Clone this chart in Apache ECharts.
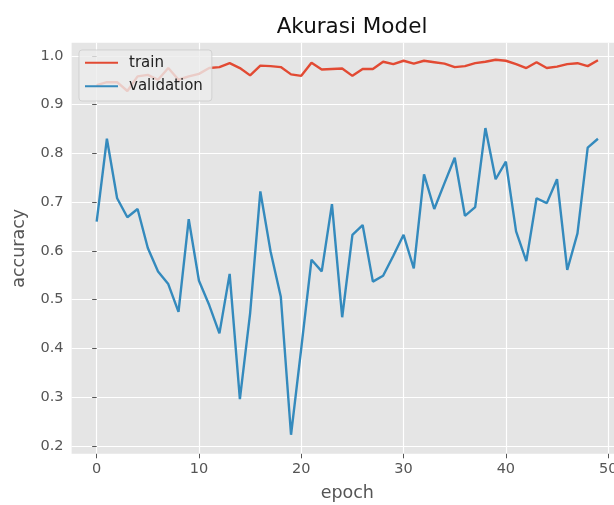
<!DOCTYPE html>
<html>
<head>
<meta charset="utf-8">
<script src="https://cdn.jsdelivr.net/npm/echarts@6/dist/echarts.min.js"></script>
<style>
  html, body { margin: 0; padding: 0; background: #fff; }
  #main { width: 614px; height: 505px; }
</style>
</head>
<body>
<div id="main"></div>
<script>
// nilai (per epoch 0..49)
var epochs = [];
for (var i = 0; i < 50; i++) epochs.push(i);

var trainAcc = [0.940, 0.946, 0.946, 0.928, 0.958, 0.961, 0.951, 0.975, 0.951, 0.958,
                0.963, 0.975, 0.977, 0.985, 0.975, 0.960, 0.980, 0.979, 0.977, 0.962,
                0.959, 0.986, 0.972, 0.973, 0.974, 0.959, 0.973, 0.973, 0.988, 0.983,
                0.990, 0.984, 0.990, 0.987, 0.984, 0.977, 0.979, 0.985, 0.988, 0.992,
                0.990, 0.983, 0.975, 0.987, 0.975, 0.978, 0.983, 0.985, 0.979, 0.991];

var valAcc = [0.660, 0.830, 0.708, 0.669, 0.686, 0.606, 0.558, 0.532, 0.475, 0.665,
              0.539, 0.489, 0.431, 0.553, 0.296, 0.472, 0.722, 0.599, 0.506, 0.223,
              0.400, 0.582, 0.558, 0.696, 0.464, 0.633, 0.653, 0.537, 0.549, 0.590,
              0.633, 0.564, 0.757, 0.686, 0.739, 0.791, 0.672, 0.690, 0.852, 0.747,
              0.783, 0.640, 0.579, 0.708, 0.698, 0.747, 0.561, 0.636, 0.812, 0.830];

var xTicks = [0, 10, 20, 30, 40, 50];
var yTicks = [0.2, 0.3, 0.4, 0.5, 0.6, 0.7, 0.8, 0.9, 1.0];

function pairs(ys) {
    var out = [];
    for (var i = 0; i < ys.length; i++) out.push([epochs[i], ys[i]]);
    return out;
}

var font = 'DejaVu Sans';
var myChart = echarts.init(document.getElementById('main'));
myChart.setOption({
    animation: false,
    backgroundColor: '#ffffff',
    title: {
        text: 'Akurasi Model',
        left: 347, textAlign: 'center',
        top: 11,
        textStyle: { fontFamily: font, fontSize: 21.5, fontWeight: 'normal', color: '#111' }
    },
    legend: {
        orient: 'vertical',
        left: 79, top: 50,
        padding: [4, 9, 6, 6],
        icon: 'rect',
        itemWidth: 33, itemHeight: 2.2, itemGap: 6,
        backgroundColor: 'rgba(236,236,236,0.8)',
        borderColor: 'rgba(204,204,204,0.8)', borderWidth: 1, borderRadius: 3,
        textStyle: { fontFamily: font, fontSize: 15, color: '#222', padding: [0, 0, 0, 6], lineHeight: 17.5 },
        data: ['train', 'validation']
    },
    grid: {
        left: 71.6, top: 42.7, width: 551.4, height: 411.1,
        outerBoundsMode: 'none', containLabel: false,
        show: true, backgroundColor: '#E5E5E5', borderWidth: 0
    },
    xAxis: {
        type: 'value', min: -2.45, max: 51.45,
        name: 'epoch', nameLocation: 'middle', nameGap: 31,
        nameTextStyle: { fontFamily: font, fontSize: 17.5, color: '#555' },
        axisLine: { show: false },
        axisTick: { show: true, length: 4.5, customValues: xTicks, lineStyle: { color: '#555', width: 1 } },
        axisLabel: { customValues: xTicks, fontFamily: font, fontSize: 14.5, color: '#555', margin: 8 },
        splitLine: { show: true, lineStyle: { color: '#fff', width: 1.2 } }
    },
    yAxis: {
        type: 'value', min: 0.184, max: 1.027,
        name: 'accuracy', nameLocation: 'middle', nameGap: 43,
        nameTextStyle: { fontFamily: font, fontSize: 17.5, color: '#555' },
        axisLine: { show: false },
        axisTick: { show: true, length: 4.5, customValues: yTicks, lineStyle: { color: '#555', width: 1 } },
        axisLabel: {
            customValues: yTicks, fontFamily: font, fontSize: 14.5, color: '#555', margin: 8,
            formatter: function (v) { return v.toFixed(1); }
        },
        splitLine: { show: true, lineStyle: { color: '#fff', width: 1.2 } }
    },
    series: [
        {
            name: 'train', type: 'line', data: pairs(trainAcc),
            symbol: 'none', lineStyle: { color: '#E24A33', width: 2.4 }, itemStyle: { color: '#E24A33' }
        },
        {
            name: 'validation', type: 'line', data: pairs(valAcc),
            symbol: 'none', lineStyle: { color: '#348ABD', width: 2.4 }, itemStyle: { color: '#348ABD' }
        }
    ]
});
</script>
</body>
</html>
